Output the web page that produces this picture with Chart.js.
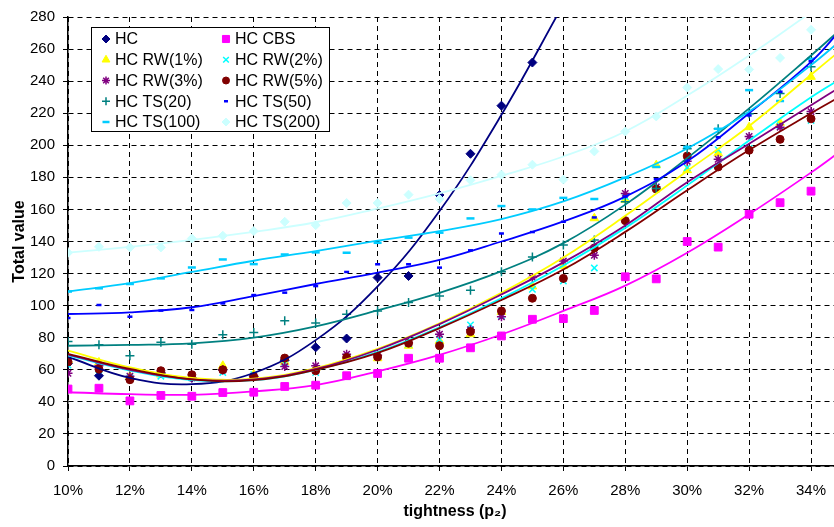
<!DOCTYPE html>
<html>
<head>
<meta charset="utf-8">
<script src="https://cdn.jsdelivr.net/npm/chart.js@4.4.0/dist/chart.umd.min.js"></script>
<style>
  html, body { margin: 0; padding: 0; background: #fff; }
  #wrap { width: 834px; height: 527px; overflow: hidden; }
</style>
</head>
<body>
<div id="wrap"><canvas id="myChart" width="850" height="527"></canvas></div>
<script>
// tightness p2 (%) of each run
const tightness = [10, 11, 12, 13, 14, 15, 16, 17, 18, 19, 20, 21, 22, 23, 24, 25, 26, 27, 28, 29, 30, 31, 32, 33, 34];

// measured total values
const hc      = [64, 56.3, 54, 58, 55, 60, 56, 66, 74, 79.5, 117.5, 118.5, 169, 194.7, 224.7, 251.6, null, null, null, null, null, null, null, null, null];
const hcCbs   = [48, 48.5, 40.6, 44, 43.5, 45.8, 46, 49.6, 50.4, 56.3, 57.7, 67.2, 67.2, 73.7, 81.1, 91.5, 91.9, 97, 118, 116.7, 140, 136.5, 157, 164.2, 171.4];
const hcRw1   = [66, 64.6, 56, 57, 56, 62.5, 57, 65, 61, 68, 67.2, 75, 78, 82.2, 96, 112, 124.7, 154.5, 166, 187.6, 184.5, 195, 211.3, 214, 242.7];
const hcRw2   = [63, 60, 55, 56, 55, 58.3, 57, 64, 58.3, 68, 69.7, 76, 79, 88, 93.6, 110.2, 115.4, 123.5, 168, 174, 186, 197.3, 198, 212, 215.5];
const hcRw3   = [57.8, 62.5, 56, 58, 55, 60, 56, 62, 62.5, 69.7, 69, 77, 82.2, 85, 93, 117.5, 127.8, 131.4, 170, 174, 190, 191.3, 205.5, 211.3, 221];
const hcRw5   = [65, 60.4, 53.8, 59.4, 56.9, 60, 55.6, 67.3, 59.4, 67.7, 68, 76.6, 75, 83.8, 96.7, 104.6, 117, 135.9, 153, 172.7, 193.3, 186.5, 196.9, 203.7, 216.5];
const hcTs20  = [77.7, 75.6, 68.8, 77.1, 76, 81.9, 83.3, 90.6, 89.2, 94.6, 96.7, 101.9, 106, 109.6, 121.2, 130.3, 137.8, 141, 164.8, 173, 197.9, 210.3, 219.6, 232.3, 249];
const hcTs50  = [92.3, 100.4, 93.1, 96.9, 97.3, 101.4, 106.6, 108.1, 112.2, 121, 125.8, 125.8, 123.7, 134.5, 145, 145.9, 152.3, 155, 168, 178.9, 190.7, 205, 218.6, 233.4, 252.4];
const hcTs100 = [108.8, 110.8, 113.5, 117, 123.8, 128.8, 125.9, 131.9, 133.2, 133, 139.2, 142.4, 145.5, 154.4, 162.1, 160, 167.2, 166.5, 179.7, 186.5, 199, 210.3, 234.4, 227.6, 254];
const hcTs200 = [133, 136.7, 136.3, 136.3, 141.9, 143.6, 146.5, 152.3, 150.2, 164, 164, 169.2, 166.5, 178.2, 181.7, 187.9, 178.6, 196.2, 208.6, 218, 236, 247.5, 247.3, 254.5, 272];

// trend curves
const trendTightness = [10, 12, 14, 16, 18, 20, 22, 24, 26, 28, 30, 32, 34, 35];
const hcTrend    = [68, 55, 51, 58, 78.5, 112, 159, 219, 288, null, null, null, null, null];
const cbsTrend   = [46, 44.8, 44.4, 46.5, 50.5, 59, 69.3, 82, 96.7, 112.5, 133, 157, 183, 197];
const rw1Trend   = [72, 61.5, 55, 54.5, 61, 73, 89, 108, 130, 156, 184, 212, 244, 260];
const rw2Trend   = [69, 59.5, 53.5, 53.5, 60, 71, 86.5, 104.5, 125, 148.5, 175, 203, 230, 242];
const rw3Trend   = [69.5, 60, 54, 54, 60.5, 72.5, 88.5, 107, 127, 150, 177, 201, 225, 237];
const rw5Trend   = [70, 60.5, 54, 53.5, 60, 70.5, 86, 103.5, 122.5, 146, 172, 197, 220, 231];
const ts20Trend  = [75, 75.5, 76.5, 80, 87, 97, 108, 121.5, 139, 163, 192, 223, 256, 273];
const ts50Trend  = [94.8, 95.8, 99, 106, 113.5, 120.6, 128.5, 140, 152.5, 168, 190, 220, 252, 273];
const ts100Trend = [108.8, 114, 121, 128, 134, 140.5, 146.5, 154, 165, 180, 198, 221, 250, 266];
const ts200Trend = [133, 136.7, 141, 146, 152, 160.5, 170, 181, 193, 208.6, 231, 256, 283, 298];

const seriesNames = ['HC', 'HC CBS', 'HC RW(1%)', 'HC RW(2%)', 'HC RW(3%)', 'HC RW(5%)', 'HC TS(20)', 'HC TS(50)', 'HC TS(100)', 'HC TS(200)'];
const seriesValues = [hc, hcCbs, hcRw1, hcRw2, hcRw3, hcRw5, hcTs20, hcTs50, hcTs100, hcTs200];
const trendValues = [hcTrend, cbsTrend, rw1Trend, rw2Trend, rw3Trend, rw5Trend, ts20Trend, ts50Trend, ts100Trend, ts200Trend];

// look of each series (Excel palette)
const looks = [
  { color: '#000080', style: 'rectRot',  radius: 4.5, bw: 1 },
  { color: '#FF00FF', style: 'rect',     radius: 5.5, bw: 1 },
  { color: '#FFFF00', style: 'triangle', radius: 5,   bw: 1 },
  { color: '#00FFFF', style: 'crossRot', radius: 4.5, bw: 1.5 },
  { color: '#800080', style: 'star',     radius: 4.5, bw: 1.5 },
  { color: '#800000', style: 'circle',   radius: 4,   bw: 1 },
  { color: '#008080', style: 'cross',    radius: 4.5, bw: 1.5 },
  { color: '#0000FF', style: 'line',     radius: 2.5, bw: 2.5 },
  { color: '#00CCFF', style: 'line',     radius: 4,   bw: 2.5 },
  { color: '#CCFFFF', style: 'rectRot',  radius: 4.5, bw: 1 }
];

const FONT = '"Liberation Sans", Arial, sans-serif';

// later series are painted over earlier ones, trend curves over all markers
const datasets = [];
seriesNames.forEach((name, i) => {
  const lk = looks[i];
  datasets.push({
    label: name,
    order: 100 - i,
    data: tightness.map((x, j) => ({ x: x, y: seriesValues[i][j] })).filter(p => p.y !== null),
    showLine: false,
    pointStyle: lk.style,
    pointRadius: lk.radius,
    pointHoverRadius: lk.radius,
    pointBorderWidth: lk.bw,
    pointBackgroundColor: lk.color,
    pointBorderColor: lk.color
  });
});
seriesNames.forEach((name, i) => {
  datasets.push({
    label: name + ' trend',
    order: 50 - i,
    data: trendTightness.map((x, j) => ({ x: x, y: trendValues[i][j] })).filter(p => p.y !== null),
    showLine: true,
    borderColor: looks[i].color,
    borderWidth: 1.8,
    pointRadius: 0,
    tension: 0.4,
    fill: false
  });
});

const boxLegend = {
  id: 'boxLegend',
  afterDraw(chart) {
    const ctx = chart.ctx;
    ctx.save();
    ctx.fillStyle = '#fff';
    ctx.fillRect(91.5, 27.5, 238, 104);
    ctx.strokeStyle = '#000';
    ctx.lineWidth = 1;
    ctx.strokeRect(91.5, 27.5, 238, 104);
    ctx.font = '16px ' + FONT;
    ctx.textBaseline = 'middle';
    seriesNames.forEach((name, i) => {
      const col = i % 2, row = Math.floor(i / 2);
      const mx = 106 + col * 120, my = 39 + row * 20.75;
      const lk = looks[i];
      ctx.fillStyle = lk.color;
      ctx.strokeStyle = lk.color;
      ctx.lineWidth = lk.bw;
      Chart.helpers.drawPoint(ctx, { pointStyle: lk.style, radius: lk.radius - 0.5, rotation: 0, borderWidth: lk.bw }, mx, my);
      ctx.fillStyle = '#000';
      ctx.fillText(name, mx + 9, my + 1);
    });
    ctx.restore();
  }
};

const ctx = document.getElementById('myChart').getContext('2d');
const myChart = new Chart(ctx, {
  type: 'scatter',
  data: { datasets: datasets },
  options: {
    responsive: false,
    animation: false,
    devicePixelRatio: 1,
    layout: { padding: { left: 0, top: 15, right: 8, bottom: 0 } },
    plugins: { legend: { display: false }, tooltip: { enabled: false } },
    scales: {
      x: {
        type: 'linear',
        min: 10,
        max: 35,
        afterFit: s => { s.height = 61; },
        ticks: {
          stepSize: 2,
          includeBounds: false,
          padding: 11,
          color: '#000',
          font: { family: FONT, size: 15 },
          callback: v => v + '%'
        },
        grid: { color: '#000', lineWidth: 1, tickLength: 5, tickColor: '#000' },
        border: { color: '#000', width: 1.5, dash: [5, 4] },
        title: {
          display: true,
          text: 'tightness (p₂)',
          color: '#000',
          font: { family: FONT, size: 16, weight: 'bold' },
          padding: { top: 6, bottom: 6 }
        }
      },
      y: {
        min: 0,
        max: 280,
        afterFit: s => { s.width = 68; },
        ticks: {
          stepSize: 20,
          padding: 8,
          color: '#000',
          font: { family: FONT, size: 15 }
        },
        grid: { color: '#000', lineWidth: 1, tickLength: 5, tickColor: '#000' },
        border: { color: '#000', width: 1.5, dash: [5, 4] },
        title: {
          display: true,
          text: 'Total value',
          color: '#000',
          font: { family: FONT, size: 16, weight: 'bold' },
          padding: { top: 10, bottom: 10 }
        }
      }
    }
  },
  plugins: [boxLegend]
});
</script>
</body>
</html>
